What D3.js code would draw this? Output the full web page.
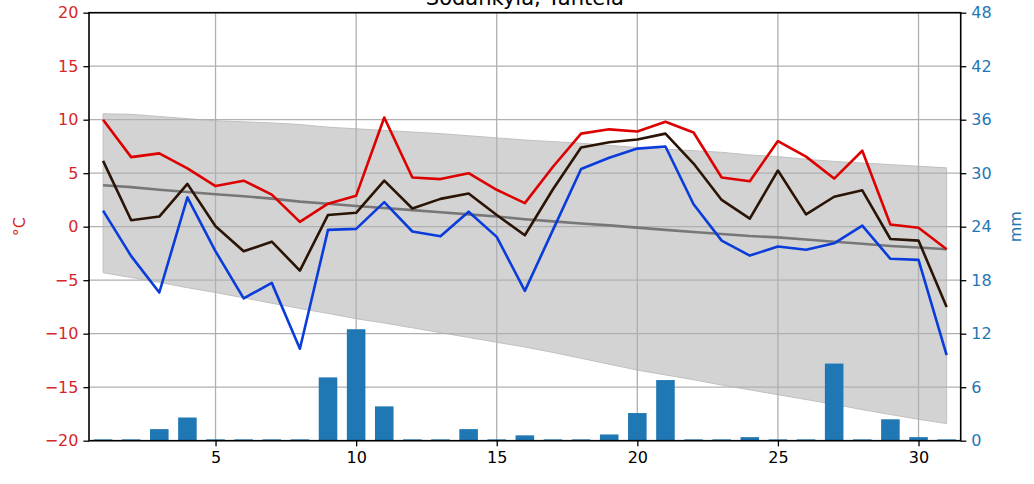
<!DOCTYPE html>
<html>
<head>
<meta charset="utf-8">
<script src="https://cdn.jsdelivr.net/npm/d3@7"></script>
<style>
  body { margin: 0; background: #fff; }
  .chart text { font-family: "DejaVu Sans", sans-serif; }
</style>
</head>
<body>
<div class="chart"></div>
<script>
// daily values
var days = d3.range(1, 32);
var tMax = [10.0, 6.5, 6.85, 5.45, 3.8, 4.3, 3.0, 0.45, 2.15, 2.9, 10.2, 4.6, 4.45, 5.0, 3.45, 2.2,
  5.6, 8.7, 9.1, 8.9, 9.8, 8.8, 4.6, 4.25, 8.0, 6.55, 4.5, 7.1, 0.2, -0.1, -2.1];
var tMean = [6.15, 0.6, 0.95, 4.0, 0.05, -2.3, -1.4, -4.1, 1.1, 1.3, 4.3, 1.7, 2.6, 3.1, 1.1, -0.8,
  3.5, 7.4, 7.9, 8.15, 8.7, 5.9, 2.5, 0.75, 5.25, 1.15, 2.8, 3.4, -1.15, -1.3, -7.5];
var tMin = [1.5, -2.75, -6.15, 2.75, -2.3, -6.7, -5.25, -11.4, -0.3, -0.2, 2.3, -0.45, -0.9, 1.4, -0.95, -6.0,
  -0.3, 5.4, 6.45, 7.3, 7.5, 2.1, -1.3, -2.7, -1.85, -2.15, -1.55, 0.1, -3.0, -3.1, -12.0];
// long term mean and its spread
var normMean = [3.87, 3.7, 3.45, 3.25, 3.03, 2.85, 2.62, 2.34, 2.15, 1.93, 1.75, 1.55, 1.35, 1.15, 0.95, 0.7,
  0.5, 0.3, 0.12, -0.09, -0.3, -0.5, -0.68, -0.87, -1.0, -1.2, -1.4, -1.6, -1.8, -1.95, -2.11];
var normHigh = [10.55, 10.5, 10.3, 10.1, 9.9, 9.8, 9.7, 9.55, 9.3, 9.15, 9.0, 8.85, 8.7, 8.5, 8.3, 8.1,
  7.95, 7.8, 7.6, 7.4, 7.25, 7.1, 6.95, 6.7, 6.55, 6.3, 6.1, 5.95, 5.8, 5.65, 5.5];
var normLow = [-4.3, -4.75, -5.2, -5.7, -6.15, -6.65, -7.15, -7.65, -8.1, -8.6, -9.0, -9.45, -9.9, -10.35, -10.8, -11.25,
  -11.75, -12.3, -12.85, -13.4, -13.85, -14.3, -14.8, -15.25, -15.7, -16.15, -16.6, -17.1, -17.55, -18.0, -18.4];
// precipitation, mm
var precip = [0.15, 0.15, 1.3, 2.6, 0.15, 0.15, 0.15, 0.15, 7.1, 12.5, 3.85, 0.15, 0.15, 1.3, 0.15, 0.6,
  0.15, 0.15, 0.7, 3.1, 6.8, 0.15, 0.15, 0.4, 0.15, 0.15, 8.65, 0.15, 2.4, 0.4, 0.15];

var xTicks = [5, 10, 15, 20, 25, 30];
var tTicks = [-20, -15, -10, -5, 0, 5, 10, 15, 20];
var pTicks = [0, 6, 12, 18, 24, 30, 36, 42, 48];

var svgWidth = 1034;
var svgHeight = 484;
var margin = { top: 12.7, right: 73.3, bottom: 43.3, left: 89 };
var width = svgWidth - margin.left - margin.right;
var height = svgHeight - margin.top - margin.bottom;

var svg = d3.select(".chart").append("svg")
  .attr("width", svgWidth)
  .attr("height", svgHeight);

var chartGroup = svg.append("g")
  .attr("transform", `translate(${margin.left}, ${margin.top})`);

var xScale = d3.scaleLinear().domain([0.5, 31.5]).range([0, width]);
var yTemp = d3.scaleLinear().domain([-20, 20]).range([height, 0]);
var yRain = d3.scaleLinear().domain([0, 48]).range([height, 0]);

var rows = days.map(function(d, i) {
  return { day: d, max: tMax[i], mean: tMean[i], min: tMin[i],
    nm: normMean[i], hi: normHigh[i], lo: normLow[i], rain: precip[i] };
});

// grey band of normal range
chartGroup.append("path")
  .datum(rows)
  .attr("fill", "#d3d3d3")
  .attr("stroke", "#c0c0c0")
  .attr("stroke-width", 1)
  .attr("d", d3.area()
    .x(d => xScale(d.day))
    .y0(d => yTemp(d.lo))
    .y1(d => yTemp(d.hi)));

// grid
chartGroup.append("g").selectAll("line")
  .data(xTicks).enter().append("line")
  .attr("x1", d => xScale(d)).attr("x2", d => xScale(d))
  .attr("y1", 0).attr("y2", height)
  .attr("stroke", "#b0b0b0").attr("stroke-width", 1.3);
chartGroup.append("g").selectAll("line")
  .data(tTicks).enter().append("line")
  .attr("x1", 0).attr("x2", width)
  .attr("y1", d => yTemp(d)).attr("y2", d => yTemp(d))
  .attr("stroke", "#b0b0b0").attr("stroke-width", 1.3);

// precipitation bars
var barW = xScale(0.66) - xScale(0);
chartGroup.append("g").selectAll("rect")
  .data(rows).enter().append("rect")
  .attr("x", d => xScale(d.day) - barW / 2)
  .attr("width", barW)
  .attr("y", d => yRain(d.rain))
  .attr("height", d => yRain(0) - yRain(d.rain))
  .attr("fill", "#1f77b4");

// temperature lines
function drawLine(key, color) {
  chartGroup.append("path")
    .datum(rows)
    .attr("fill", "none")
    .attr("stroke", color)
    .attr("stroke-width", 2.6)
    .attr("stroke-linejoin", "round")
    .attr("d", d3.line().x(d => xScale(d.day)).y(d => yTemp(d[key])));
}
drawLine("nm", "#777777");
drawLine("max", "#dd0000");
drawLine("mean", "#2a1405");
drawLine("min", "#0a3cdc");

// axes
var xAxis = d3.axisBottom(xScale).tickValues(xTicks).tickSize(5.6).tickSizeOuter(0).tickPadding(5);
var yAxis = d3.axisLeft(yTemp).tickValues(tTicks).tickSize(5.6).tickSizeOuter(0).tickPadding(5);
var y2Axis = d3.axisRight(yRain).tickValues(pTicks).tickSize(5.6).tickSizeOuter(0).tickPadding(5);

var gx = chartGroup.append("g")
  .attr("transform", `translate(0, ${height})`)
  .call(xAxis);
var gy = chartGroup.append("g").call(yAxis);
var gy2 = chartGroup.append("g")
  .attr("transform", `translate(${width}, 0)`)
  .call(y2Axis);

[gx, gy, gy2].forEach(function(g) {
  g.select(".domain").remove();
  g.selectAll(".tick line").attr("stroke", "#000").attr("stroke-width", 1.3);
  g.selectAll("text").attr("font-size", 16).attr("font-family", "DejaVu Sans");
});
gx.selectAll("text").attr("fill", "#000");
gy.selectAll("text").attr("fill", "#d62728");
gy2.selectAll("text").attr("fill", "#1f77b4");

// frame
chartGroup.append("rect")
  .attr("width", width).attr("height", height)
  .attr("fill", "none").attr("stroke", "#000").attr("stroke-width", 1.6);

// labels
svg.append("text")
  .attr("x", margin.left + width / 2)
  .attr("y", 4.5)
  .attr("text-anchor", "middle")
  .attr("font-size", 21)
  .attr("fill", "#000")
  .text("Sodankylä, Tähtelä");

svg.append("text")
  .attr("transform", `translate(25, ${margin.top + height / 2}) rotate(-90)`)
  .attr("text-anchor", "middle")
  .attr("font-size", 16)
  .attr("fill", "#d62728")
  .text("°C");

svg.append("text")
  .attr("transform", `translate(1021, ${margin.top + height / 2}) rotate(-90)`)
  .attr("text-anchor", "middle")
  .attr("font-size", 16)
  .attr("fill", "#1f77b4")
  .text("mm");
</script>
</body>
</html>
